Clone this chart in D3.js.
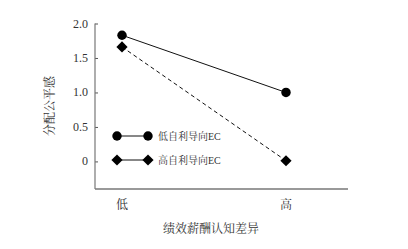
<!DOCTYPE html>
<html><head><meta charset="utf-8">
<script src="https://cdn.jsdelivr.net/npm/d3@7"></script>
<style>body{margin:0;background:#fff}svg{display:block}</style>
</head><body>
<svg id="c" width="408" height="249"></svg>
<script>
const categories = ["低", "高"];
const seriesNames = ["低自利导向EC", "高自利导向EC"];
const lowEC = [1.83, 1.0];
const highEC = [1.66, 0.01];
const yTicks = [0, 0.5, 1.0, 1.5, 2.0];
const yTickLabels = ["0", "0.5", "1.0", "1.5", "2.0"];
const xTitle = "绩效薪酬认知差异";
const yTitle = "分配公平感";

const svg = d3.select("#c");
const serif = "'Liberation Serif','Noto Serif CJK SC','Noto Sans CJK SC',serif";
const mL = 95, mR = 348, mT = 23.5, mB = 189;
const y = d3.scaleLinear().domain([-0.4, 2.0]).range([mB, mT]);
const x = d3.scalePoint().domain(categories).range([122, 286]);

// axes
const ay = svg.append("g").attr("transform", `translate(${mL},0)`)
  .call(d3.axisRight(y).tickValues(yTicks).tickSize(3).tickFormat(""));
ay.select(".domain").remove();
ay.selectAll(".tick line").attr("stroke", "#555");
svg.append("line").attr("x1", mL).attr("x2", mL).attr("y1", mT).attr("y2", mB).attr("stroke", "#777").attr("stroke-width", 1.2);
svg.append("line").attr("x1", mL).attr("x2", mR).attr("y1", mB).attr("y2", mB).attr("stroke", "#777").attr("stroke-width", 1.5);

svg.selectAll(".yl").data(yTicks).join("text")
  .attr("x", 88).attr("y", d => y(d) + 4).attr("text-anchor", "end")
  .attr("font-family", serif).attr("font-size", 12).attr("fill", "#333")
  .text((d, i) => yTickLabels[i]);

svg.selectAll(".xl").data(categories).join("text")
  .attr("x", d => x(d)).attr("y", 209).attr("text-anchor", "middle")
  .attr("font-family", serif).attr("font-size", 12).attr("fill", "#333")
  .text(d => d);

svg.append("text").attr("x", 211).attr("y", 233).attr("text-anchor", "middle")
  .attr("font-family", serif).attr("font-size", 12).attr("fill", "#333").text(xTitle);
svg.append("text").attr("transform", "translate(54,106) rotate(-90)").attr("text-anchor", "middle")
  .attr("font-family", serif).attr("font-size", 12).attr("fill", "#333").text(yTitle);

const line = d3.line().x((d, i) => x(categories[i])).y(d => y(d));
svg.append("path").attr("d", line(lowEC)).attr("fill", "none").attr("stroke", "#111").attr("stroke-width", 1);
svg.append("path").attr("d", line(highEC)).attr("fill", "none").attr("stroke", "#111").attr("stroke-width", 1).attr("stroke-dasharray", "4,3");

const circ = d3.symbol().type(d3.symbolCircle).size(70);
const diam = d3.symbol().type(d3.symbolDiamond2).size(80);
svg.selectAll(".c1").data(lowEC).join("path")
  .attr("d", circ).attr("transform", (d, i) => `translate(${x(categories[i])},${y(d)})`).attr("fill", "#000");
svg.selectAll(".d1").data(highEC).join("path")
  .attr("d", diam).attr("transform", (d, i) => `translate(${x(categories[i])},${y(d)})`).attr("fill", "#000");

// legend
const legY = [136, 160];
const shapes = [circ, diam];
seriesNames.forEach((n, i) => {
  const g = svg.append("g");
  g.append("line").attr("x1", 117).attr("x2", 148).attr("y1", legY[i]).attr("y2", legY[i]).attr("stroke", "#111");
  [117, 148].forEach(px => g.append("path").attr("d", shapes[i]).attr("transform", `translate(${px},${legY[i]})`).attr("fill", "#000"));
  g.append("text").attr("x", 158).attr("y", legY[i] + 3.5).attr("font-family", serif).attr("font-size", 10).attr("fill", "#333").text(n);
});
</script>
</body></html>
